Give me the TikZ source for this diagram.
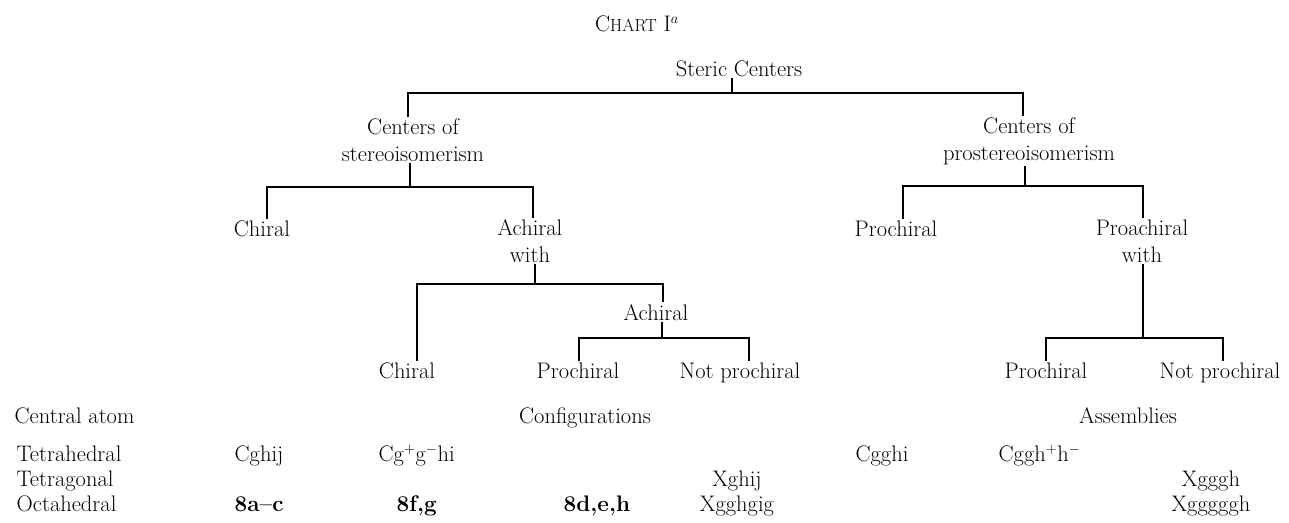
\documentclass[tikz,border=0pt]{standalone}
\usepackage{fontspec}
\begin{document}
\begin{tikzpicture}[x=1pt,y=-1pt,
  every node/.style={font=\fontsize{22.5}{26.5}\selectfont, inner sep=1.5pt},
  lbl/.style={anchor=base, align=center},
  lblw/.style={anchor=base west},
  conn/.style={line width=1.7pt}]
\useasboundingbox (0,0) rectangle (1289,522);

% title
\node[lbl] (title) at (637,31) {C{\fontsize{17.5}{20}\selectfont HART} I$^{a}$};

% tree labels (base = last line)
\node[lbl] (steric) at (739,76) {Steric Centers};
\node[lbl] (cs) at (413,161) {Centers of\\stereoisomerism};
\node[lbl] (cp) at (1029,160) {Centers of\\prostereoisomerism};
\node[lbl] (chA) at (262,236) {Chiral};
\node[lbl] (achw) at (530,262) {Achiral\\with};
\node[lbl] (prA) at (896,236) {Prochiral};
\node[lbl] (proachw) at (1142,262) {Proachiral\\with};
\node[lbl] (achB) at (656,320) {Achiral};
\node[lbl] (chB) at (407,378) {Chiral};
\node[lbl] (prB) at (578,378) {Prochiral};
\node[lbl] (npB) at (740,378) {Not prochiral};
\node[lbl] (prC) at (1046,378) {Prochiral};
\node[lbl] (npC) at (1220,378) {Not prochiral};

% junctions
\coordinate (l1l) at (408,93);  \coordinate (l1r) at (1023,93);  \coordinate (l1t) at (732,93);
\coordinate (l2l) at (267,187); \coordinate (l2r) at (533,187);  \coordinate (l2t) at (410,187);
\coordinate (m2l) at (903,186); \coordinate (m2r) at (1143,186); \coordinate (m2t) at (1025,186);
\coordinate (l3l) at (417,284); \coordinate (l3r) at (663,284);  \coordinate (l3t) at (535,284);
\coordinate (l4l) at (579,338); \coordinate (l4r) at (749,338);  \coordinate (l4t) at (662,338);
\coordinate (m5l) at (1046,338);\coordinate (m5r) at (1223,338); \coordinate (m5t) at (1143,338);

\draw[conn] (l1t |- steric.south) -- (l1t);
\draw[conn] (l1l |- cs.north) -- (l1l) -- (l1r) -- (l1r |- cp.north);

\draw[conn] (l2t |- cs.south) -- (l2t);
\draw[conn] (l2l |- chA.north) -- (l2l) -- (l2r) -- (l2r |- achw.north);

\draw[conn] (m2t |- cp.south) -- (m2t);
\draw[conn] (m2l |- prA.north) -- (m2l) -- (m2r) -- (m2r |- proachw.north);

\draw[conn] (l3t |- achw.south) -- (l3t);
\draw[conn] (l3l |- chB.north) -- (l3l) -- (l3r) -- (l3r |- achB.north);

\draw[conn] (l4t |- achB.south) -- (l4t);
\draw[conn] (l4l |- prB.north) -- (l4l) -- (l4r) -- (l4r |- npB.north);

\draw[conn] (m5t |- proachw.south) -- (m5t);
\draw[conn] (m5l |- prC.north) -- (m5l) -- (m5r) -- (m5r |- npC.north);

% table
\node[lblw] (central) at (13,423) {Central atom};
\node[lbl] (config) at (585,423) {Configurations};
\node[lbl] (assem) at (1128,423) {Assemblies};

\node[lblw] (tetrah) at (15,461) {Tetrahedral};
\node[lblw] (tetrag) at (15,486) {Tetragonal};
\node[lblw] (octa) at (15,511) {Octahedral};

\node[lblw] (c1) at (233,461) {Cghij};
\node[lblw] (c2) at (377,461) {Cg$^{+}$g$^{-}$hi};
\node[lbl] (c5) at (882,461) {Cgghi};
\node[lblw] (c6) at (997,461) {Cggh$^{+}$h$^{-}$};

\node[lbl] (x4) at (737,486) {Xghij};
\node[lbl] (x7) at (1211,486) {Xgggh};

\node[lblw] (o1) at (233,511) {\textbf{8a--c}};
\node[lblw] (o2) at (395,511) {\textbf{8f,g}};
\node[lblw] (o3) at (562,511) {\textbf{8d,e,h}};
\node[lbl] (o4) at (737,511) {Xgghgig};
\node[lbl] (o7) at (1211,511) {Xgggggh};
\end{tikzpicture}
\end{document}
